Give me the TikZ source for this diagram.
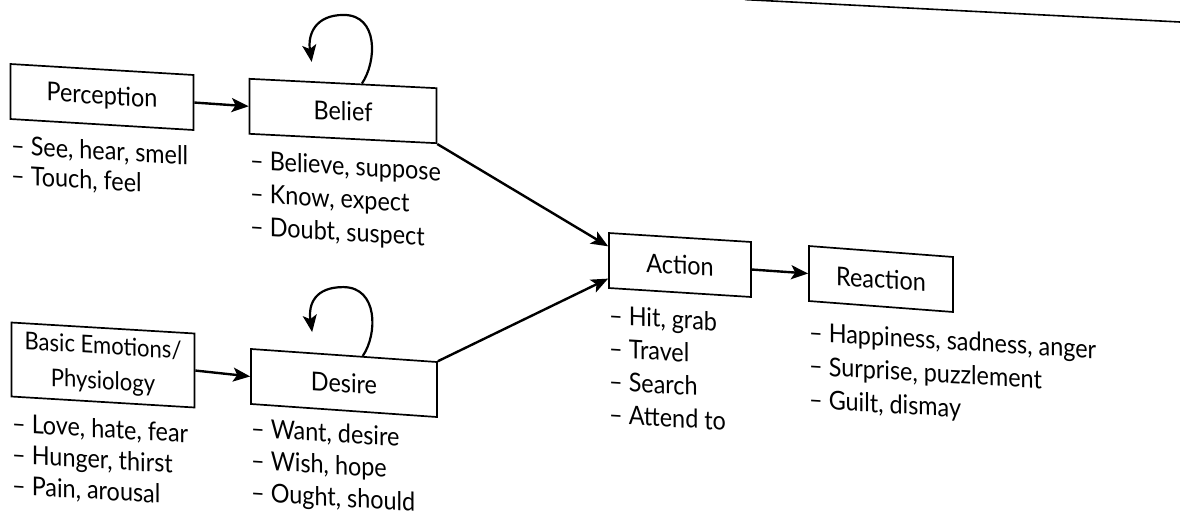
\documentclass[tikz,border=0pt]{standalone}
\usepackage{fontspec}
\setmainfont[FakeStretch=0.9]{Lato}
\usetikzlibrary{arrows.meta,calc}
\begin{document}
\begin{tikzpicture}[x=1pt,y=-1pt,
  box/.style={draw, line width=1.7pt, inner sep=0pt, minimum height=55pt,
    align=center, font=\fontsize{26}{34}\selectfont},
  itemlist/.style={anchor=north west, inner sep=0pt, align=left, yslant=-0.06,
    font=\fontsize{26}{#1}\selectfont},
  arr/.style={line width=2.4pt, -{Stealth[length=17pt,width=14pt,inset=4pt]}},
  loop/.style={line width=2.2pt, -{Stealth[length=17pt,width=14pt,inset=4pt]}}]
\useasboundingbox (0,0) rectangle (1180,517);
% rule at the top of the page
\coordinate (ruleA) at (745,-0.4);
\coordinate (ruleB) at (1180,22);
\draw[line width=1.6pt] (ruleA) -- (ruleB);

% boxes
\node[box, minimum width=183pt, yslant=-0.06] (perc) at (102,97) {Perception};
\node[box, minimum width=187pt, yslant=-0.05] (bel) at (343,111) {Belief};
\node[box, minimum width=183pt, minimum height=74pt, yslant=-0.06,
  font=\fontsize{24.5}{35}\selectfont] (emo) at (103,365) {Basic Emotions/\\Physiology};
\node[box, minimum width=186pt, yslant=-0.07] (des) at (344,383) {Desire};
\node[box, minimum width=142pt, yslant=-0.063] (act) at (680,265) {Action};
\node[box, minimum width=144pt, yslant=-0.076] (rea) at (881,279) {Reaction};

% lists
\node[itemlist=30] (percL) at (11,135) {– See, hear, smell\\– Touch, feel};
\node[itemlist=33] (belL) at (250,150) {– Believe, suppose\\– Know, expect\\– Doubt, suspect};
\node[itemlist=31] (emoL) at (12,413) {– Love, hate, fear\\– Hunger, thirst\\– Pain, arousal};
\node[itemlist=32] (desL) at (251,418) {– Want, desire\\– Wish, hope\\– Ought, should};
\node[itemlist=33] (actL) at (609,305) {– Hit, grab\\– Travel\\– Search\\– Attend to};
\node[itemlist=33.5] (reaL) at (809,322) {– Happiness, sadness, anger\\– Surprise, puzzlement\\– Guilt, dismay};

% connectors
\draw[arr] (perc.east) -- (bel.west);
\draw[arr] (emo.east) -- (des.west);
\draw[arr] (act.east) -- (rea.west);
\draw[arr] (bel.south east) -- ($(act.north west)!0.25!(act.south west)$);
\draw[arr] (des.north east) -- ($(act.north west)!0.82!(act.south west)$);

% self loops
\coordinate (belS) at ($(bel.north west)!0.6!(bel.north east)$);
\coordinate (belT) at ($(bel.north west)+(95,-63)$);
\coordinate (belE) at ($(bel.north west)+(63,-16)$);
\draw[loop] (belS) .. controls +(15,-22) and +(35,0) .. (belT)
  .. controls +(-28,0) and +(-4,-28) .. (belE);
\coordinate (desS) at ($(des.north west)!0.6!(des.north east)$);
\coordinate (desT) at ($(des.north west)+(93,-61)$);
\coordinate (desE) at ($(des.north west)+(62,-16)$);
\draw[loop] (desS) .. controls +(15,-22) and +(35,0) .. (desT)
  .. controls +(-28,0) and +(-4,-28) .. (desE);
\end{tikzpicture}
\end{document}
